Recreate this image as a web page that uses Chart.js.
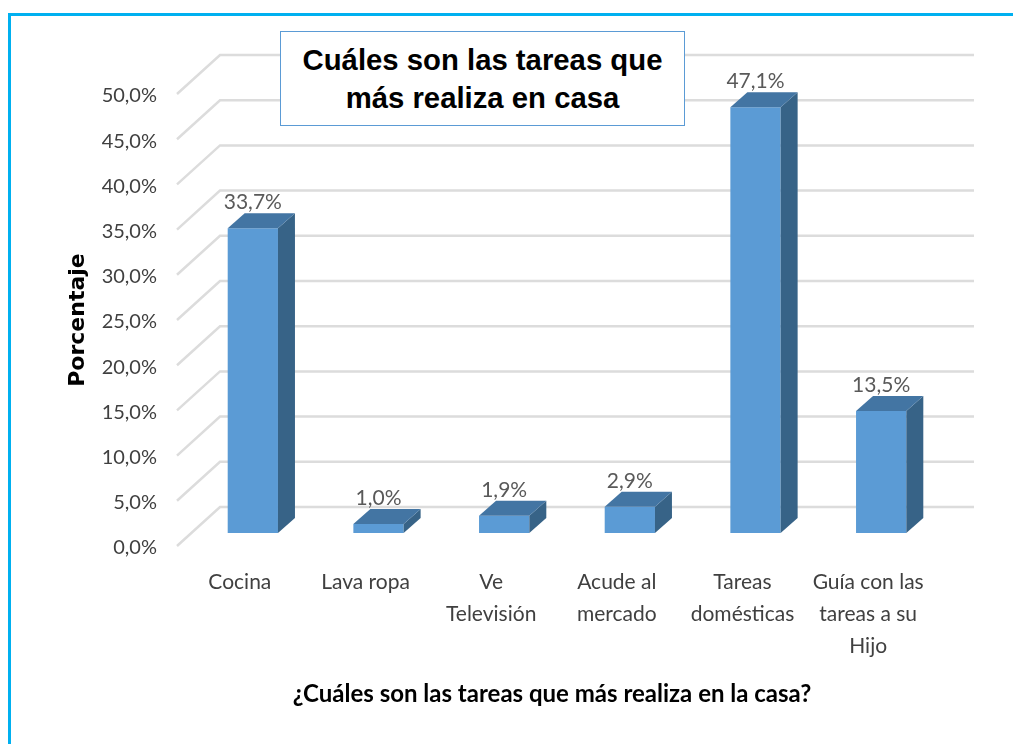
<!DOCTYPE html>
<html lang="es">
<head>
  <meta charset="UTF-8">
  <title>Tareas en casa</title>
  <script src="https://cdn.jsdelivr.net/npm/chart.js"></script>
  <style>
    html, body { margin: 0; padding: 0; background: #fff; overflow: hidden; }
    #marco { position: absolute; left: 8px; top: 13px; width: 1010px; height: 740px;
      border-top: 3px solid #00b0f0; border-left: 3px solid #00b0f0; }
    #grafico { position: absolute; left: 0; top: 0; width: 1013px; height: 744px; }
    #titulo { position: absolute; left: 280px; top: 31px; width: 403px; height: 84px;
      border: 1px solid #5b9bd5; background: #fff; text-align: center; color: #000;
      font: bold 29.3px/38px "Liberation Sans", Arial, sans-serif; padding-top: 9px; }
  </style>
</head>
<body>
  <div id="marco"></div>
  <div style="position:absolute;left:0;top:0;width:1013px;height:744px;">
    <canvas id="grafico" width="1013" height="744"></canvas>
  </div>
  <div id="titulo">Cuáles son las tareas que<br>más realiza en casa</div>

  <script>
    const categorias = ['Cocina', 'Lava ropa', ['Ve', 'Televisión'], ['Acude al', 'mercado'], ['Tareas', 'domésticas'], ['Guía con las', 'tareas a su', 'Hijo']];
    const porcentajes = [33.7, 1.0, 1.9, 2.9, 47.1, 13.5];
    const tituloX = '¿Cuáles son las tareas que más realiza en la casa?';
    const tituloY = 'Porcentaje';

    const coma = v => v.toFixed(1).replace('.', ',') + '%';

    // suelo y pared del falso 3D
    const pared = {
      id: 'pared',
      beforeDatasetsDraw(chart) {
        const ctx = chart.ctx;
        const y = chart.scales.y;
        ctx.save();
        ctx.strokeStyle = '#dcdcdc';
        ctx.lineWidth = 2.5;
        y.ticks.forEach(t => {
          const py = y.getPixelForValue(t.value);
          ctx.beginPath();
          ctx.moveTo(177, py + 13);
          ctx.lineTo(220, py - 26);
          ctx.lineTo(974, py - 26);
          ctx.stroke();
        });
        ctx.restore();
      }
    };

    // caras de arriba y del lado, etiquetas y titulos de ejes
    const barras3d = {
      id: 'barras3d',
      afterDatasetsDraw(chart) {
        const ctx = chart.ctx;
        const dx = 17, dy = 15;
        ctx.save();
        chart.getDatasetMeta(0).data.forEach((bar, i) => {
          const izq = bar.x - bar.width / 2;
          const der = bar.x + bar.width / 2;
          ctx.fillStyle = '#376387';
          ctx.beginPath();
          ctx.moveTo(der, bar.y);
          ctx.lineTo(der + dx, bar.y - dy);
          ctx.lineTo(der + dx, bar.base - dy);
          ctx.lineTo(der, bar.base);
          ctx.closePath();
          ctx.fill();
          ctx.fillStyle = '#4375a3';
          ctx.beginPath();
          ctx.moveTo(izq, bar.y);
          ctx.lineTo(izq + dx, bar.y - dy);
          ctx.lineTo(der + dx, bar.y - dy);
          ctx.lineTo(der, bar.y);
          ctx.closePath();
          ctx.fill();
          ctx.fillStyle = '#595959';
          ctx.font = '21px Lato';
          ctx.textAlign = 'center';
          ctx.textBaseline = 'middle';
          ctx.fillText(coma(porcentajes[i]), bar.x, bar.y - 26);
        });
        ctx.fillStyle = '#000';
        ctx.font = 'bold 24px Lato';
        ctx.textAlign = 'center';
        ctx.textBaseline = 'middle';
        ctx.fillText(tituloX, 552, 694);
        ctx.translate(78, 320);
        ctx.rotate(-Math.PI / 2);
        ctx.font = 'bold 22px "DejaVu Sans"';
        ctx.fillText(tituloY, 0, 0);
        ctx.restore();
      }
    };

    new Chart(document.getElementById('grafico'), {
      type: 'bar',
      data: {
        labels: categorias,
        datasets: [{
          data: porcentajes,
          backgroundColor: '#5b9bd5',
          barPercentage: 0.4,
          categoryPercentage: 1
        }]
      },
      plugins: [pared, barras3d],
      options: {
        responsive: false,
        animation: false,
        layout: { padding: { left: 20, right: 69, top: 81, bottom: 0 } },
        plugins: { legend: { display: false }, tooltip: { enabled: false } },
        scales: {
          x: {
            grid: { display: false },
            border: { display: false },
            afterFit(s) { s.height = 211; },
            ticks: {
              color: '#404040',
              font: { family: 'Lato', size: 21, lineHeight: 32 / 21 },
              padding: 25,
              labelOffset: -13,
              maxRotation: 0,
              autoSkip: false
            }
          },
          y: {
            min: 0,
            max: 50,
            grid: { display: false, drawTicks: false },
            border: { display: false },
            afterFit(s) { s.width = 170; },
            ticks: {
              stepSize: 5,
              color: '#404040',
              font: { family: 'Lato', size: 20 },
              padding: 33,
              labelOffset: 15,
              callback: v => coma(v)
            }
          }
        }
      }
    });
  </script>
</body>
</html>
